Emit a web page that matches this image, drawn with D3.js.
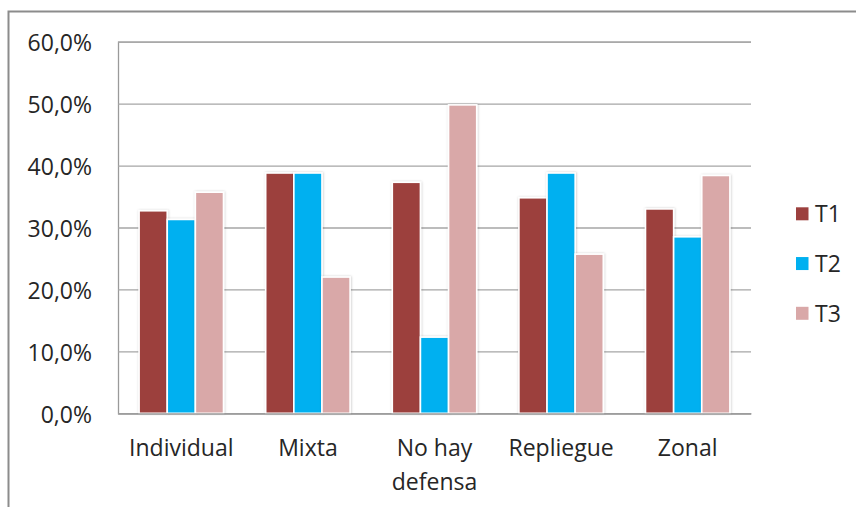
<!DOCTYPE html>
<html>
<head>
<meta charset="utf-8">
<script src="https://cdn.jsdelivr.net/npm/d3@7"></script>
<style>
  html, body { margin: 0; padding: 0; background: #fff; }
  svg { display: block; }
  text { font-family: "Open Sans", "Noto Sans", sans-serif; fill: #262626; }
</style>
</head>
<body>
<svg id="chart" width="856" height="507"></svg>
<script>
const categories = ["Individual", "Mixta", "No hay defensa", "Repliegue", "Zonal"];
const seriesNames = ["T1", "T2", "T3"];
const t1Values = [0.327, 0.388, 0.373, 0.348, 0.330];
const t2Values = [0.313, 0.388, 0.123, 0.388, 0.285];
const t3Values = [0.357, 0.220, 0.498, 0.257, 0.384];
const yTicks = [0, 0.1, 0.2, 0.3, 0.4, 0.5, 0.6];
const seriesColors = ["#9C403E", "#00B0F0", "#D9A8A8"];

const seriesValues = [t1Values, t2Values, t3Values];
const rows = categories.map((c, i) => ({
  category: c,
  values: seriesNames.map((s, j) => ({ series: s, value: seriesValues[j][i] }))
}));

const svg = d3.select("#chart");
const plot = { left: 118, right: 751, top: 41.7, bottom: 413.3 };

// outer chart frame
svg.append("rect")
  .attr("x", 8.5).attr("y", 11.5)
  .attr("width", 900).attr("height", 600)
  .attr("fill", "none").attr("stroke", "#8c8c8c").attr("stroke-width", 2);

const defs = svg.append("defs");
const f = defs.append("filter").attr("id", "shadow")
  .attr("x", "-30%").attr("y", "-10%").attr("width", "160%").attr("height", "120%");
f.append("feDropShadow").attr("dx", 0.5).attr("dy", 0).attr("stdDeviation", 1.3)
  .attr("flood-color", "#000").attr("flood-opacity", 0.22);

const y = d3.scaleLinear().domain([0, 0.6]).range([plot.bottom, plot.top]);
const x0 = d3.scaleBand().domain(categories).range([plot.left, plot.right]).padding(0);
const x1 = d3.scaleBand().domain(seriesNames).range([0, x0.bandwidth()])
  .paddingInner(0).paddingOuter(0.75);
const color = d3.scaleOrdinal().domain(seriesNames).range(seriesColors);

const locale = d3.formatLocale({ decimal: ",", thousands: ".", grouping: [3], currency: ["", "€"] });
const fmt = locale.format(".1%");

// gridlines + y axis
const yAxis = d3.axisLeft(y).tickValues(yTicks).tickSize(-(plot.right - plot.left)).tickFormat(fmt).tickPadding(26);
const gy = svg.append("g").attr("transform", `translate(${plot.left},0)`).call(yAxis);
gy.select(".domain").attr("stroke", "#9a9a9a").attr("stroke-width", 1.3);
gy.selectAll(".tick line").attr("stroke", "#a6a6a6").attr("stroke-width", 1.3);
gy.selectAll(".tick text").attr("font-size", 23).attr("fill", "#262626")
  .attr("font-family", "'Open Sans', sans-serif").attr("dy", "0.4em");

// bars
const groups = svg.append("g").selectAll("g").data(rows).join("g")
  .attr("transform", d => `translate(${x0(d.category)},0)`);
groups.selectAll("rect").data(d => d.values).join("rect")
  .attr("x", d => x1(d.series))
  .attr("y", d => y(d.value))
  .attr("width", x1.bandwidth())
  .attr("height", d => y(0) - y(d.value))
  .attr("fill", d => color(d.series))
  .attr("stroke", "#fff").attr("stroke-width", 1.6)
  .attr("filter", "url(#shadow)");

// x axis
const xAxis = d3.axisBottom(x0).tickSize(0).tickPadding(0);
const gx = svg.append("g").attr("transform", `translate(0,${plot.bottom})`).call(xAxis);
gx.select(".domain").attr("stroke", "#9a9a9a").attr("stroke-width", 1.3);
gx.selectAll(".tick text").attr("font-size", 23).attr("fill", "#262626")
  .attr("font-family", "'Open Sans', sans-serif")
  .each(function(d) {
    const t = d3.select(this);
    const words = d.split(" ");
    t.text(null);
    const maxW = x0.bandwidth() - 6;
    let lines = [], line = [];
    const tmp = t.append("tspan");
    words.forEach(w => {
      line.push(w);
      tmp.text(line.join(" "));
      if (tmp.node().getComputedTextLength() > maxW && line.length > 1) {
        line.pop();
        lines.push(line.join(" "));
        line = [w];
      }
    });
    lines.push(line.join(" "));
    tmp.remove();
    lines.forEach((l, i) => {
      t.append("tspan").attr("x", 0).attr("y", 43 + i * 33.3).attr("dy", 0).text(l);
    });
  });

// legend
const legend = svg.append("g").attr("transform", "translate(796,0)");
const ly = d3.scalePoint().domain(seriesNames).range([213.8, 313.3]);
const li = legend.selectAll("g").data(seriesNames).join("g")
  .attr("transform", d => `translate(0,${ly(d)})`);
li.append("rect").attr("x", 0).attr("y", -6.5).attr("width", 12.5).attr("height", 13)
  .attr("fill", d => color(d));
li.append("text").attr("x", 19).attr("y", 0).attr("dy", "0.36em")
  .attr("font-size", 23).text(d => d);
</script>
</body>
</html>
